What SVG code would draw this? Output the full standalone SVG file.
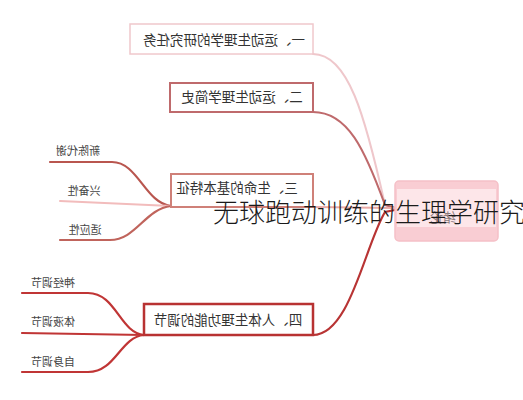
<svg xmlns="http://www.w3.org/2000/svg" width="523" height="400" viewBox="0 0 523 400">
<style>
.cjk{font-family:"Noto Sans CJK SC","Noto Sans CJK JP",sans-serif;}
.node{fill:#ffffff;}
.lbl{font-size:13.5px;fill:#333;text-anchor:middle;}
.sub{font-size:11px;fill:#444;text-anchor:middle;}
.c{fill:none;stroke-linecap:round;}
</style>
<rect width="523" height="400" fill="#ffffff"/>
<g id="connectors">
<path class="c" d="M313,54 C348,54 365,115 385,205 L395,208" stroke="#efc7cb" stroke-width="2"/>
<path class="c" d="M313,112 C348,112 365,150 385,205 L395,208" stroke="#bf6a6c" stroke-width="2"/>
<path class="c" d="M313,207 L395,208" stroke="#e9aaa8" stroke-width="2"/>
<path class="c" d="M313,335 C350,335 365,245 385,212 L395,210" stroke="#b83434" stroke-width="2.2"/>
<path class="c" d="M50,162 L112,162 C138,162 145,203 171,206" stroke="#b9564f" stroke-width="2.2"/>
<path class="c" d="M60,201 L171,206" stroke="#f2bcbc" stroke-width="2"/>
<path class="c" d="M60,240 L110,240 C136,240 145,209 171,206" stroke="#c0645c" stroke-width="2.2"/>
<path class="c" d="M22,293 L88,293 C116,293 120,333 144,335" stroke="#c03535" stroke-width="2.2"/>
<path class="c" d="M22,333 L144,335" stroke="#c03535" stroke-width="2.2"/>
<path class="c" d="M22,372 L88,372 C116,372 120,337 144,335" stroke="#c03535" stroke-width="2.2"/>
</g>
<g id="center">
<rect x="395" y="181" width="103" height="60" rx="4" fill="#f9cdd3" stroke="#f5c0c7" stroke-width="1.5"/>
<rect x="397" y="189" width="99" height="38" fill="#fde6e9"/>
<g transform="scale(-1,1)"><text class="cjk" x="-443" y="222" font-size="13" fill="#8a7a7c" text-anchor="middle">绪论</text></g>
</g>
<g id="n1">
<rect class="node" x="130" y="24" width="183" height="30" stroke="#f0c8cc" stroke-width="1.5"/>
<g transform="scale(-1,1)"><text class="cjk lbl" x="-224" y="45">一、运动生理学的研究任务</text></g>
</g>
<g id="n2">
<rect class="node" x="170" y="83" width="143" height="29" stroke="#bf6a6c" stroke-width="2"/>
<g transform="scale(-1,1)"><text class="cjk lbl" x="-242" y="102">二、运动生理学简史</text></g>
</g>
<g id="n3">
<rect class="node" x="171" y="174" width="142" height="33" stroke="#cf8078" stroke-width="2"/>
<g transform="scale(-1,1)"><text class="cjk lbl" x="-237" y="193" fill="#666">三、生命的基本特征</text></g>
</g>
<g id="n4">
<rect class="node" x="144" y="304" width="169" height="31" stroke="#b83232" stroke-width="2.5"/>
<g transform="scale(-1,1)"><text class="cjk lbl" x="-228" y="325">四、人体生理功能的调节</text></g>
</g>
<g id="s1"><g transform="scale(-1,1)"><text class="cjk sub" x="-78" y="155">新陈代谢</text></g></g>
<g id="s2"><g transform="scale(-1,1)"><text class="cjk sub" x="-84" y="195" fill="#999">兴奋性</text></g></g>
<g id="s3"><g transform="scale(-1,1)"><text class="cjk sub" x="-85" y="234">适应性</text></g></g>
<g id="s4"><g transform="scale(-1,1)"><text class="cjk sub" x="-53" y="287">神经调节</text></g></g>
<g id="s5"><g transform="scale(-1,1)"><text class="cjk sub" x="-53" y="326">体液调节</text></g></g>
<g id="s6"><g transform="scale(-1,1)"><text class="cjk sub" x="-53" y="366">自身调节</text></g></g>
<g id="title">
<text class="cjk" x="213" y="222" font-size="26" font-weight="300" fill="#1a1a1a">无球跑动训练的生理学研究</text>
</g>
</svg>
